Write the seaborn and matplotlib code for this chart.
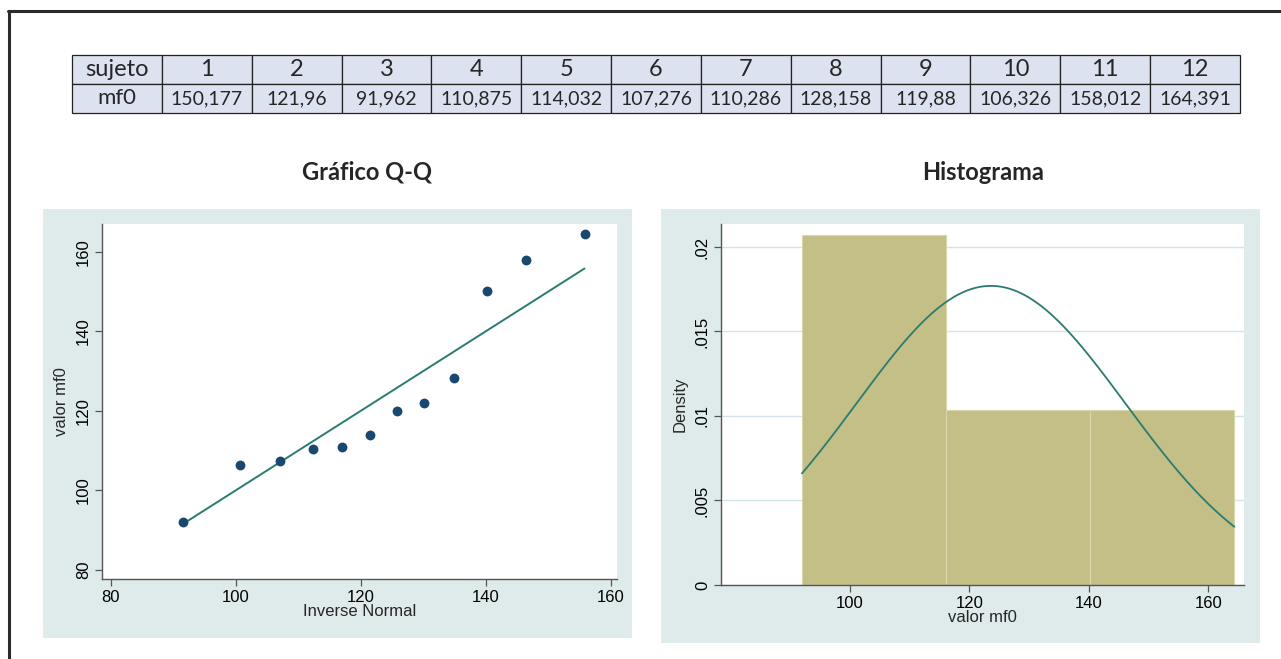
import matplotlib
matplotlib.use("Agg")
import matplotlib.pyplot as plt
import seaborn as sns
import numpy as np
import pandas as pd
from matplotlib.patches import Rectangle
from matplotlib.lines import Line2D

# Datos
sujeto = [1, 2, 3, 4, 5, 6, 7, 8, 9, 10, 11, 12]
mf0 = [150.177, 121.96, 91.962, 110.875, 114.032, 107.276,
       110.286, 128.158, 119.88, 106.326, 158.012, 164.391]
mf0_text = ["150,177", "121,96", "91,962", "110,875", "114,032", "107,276",
            "110,286", "128,158", "119,88", "106,326", "158,012", "164,391"]
# cuantiles normales (eje x del Q-Q)
inverse_normal = [91.5, 100.6, 107.0, 112.3, 117.0, 121.4,
                  125.8, 130.2, 134.9, 140.2, 146.5, 155.8]

qq_xticks = [80, 100, 120, 140, 160]
qq_yticks = [80, 100, 120, 140, 160]
hist_xticks = [100, 120, 140, 160]
hist_yticks = [0, 0.005, 0.01, 0.015, 0.02]
hist_ylabels = ["0", ".005", ".01", ".015", ".02"]

sns.set_style("white")
plt.rcParams['font.family'] = ['Liberation Sans', 'DejaVu Sans']

BG = "#dfeaeb"
NAVY = "#1a476f"
TEAL = "#2a7b70"
KHAKI = "#c4bf86"
W, H = 1281, 659


def fx(px):
    return px / W


def fy(py):
    return 1 - py / H


fig = plt.figure(figsize=(12.81, 6.59), dpi=100)
fig.patch.set_facecolor("white")

# marco exterior
fig.add_artist(Line2D([fx(8), 1.0], [fy(11), fy(11)], color="#2b2b2b", lw=2.2))
fig.add_artist(Line2D([fx(9), fx(9)], [fy(11), 0.0], color="#2b2b2b", lw=2.2))

# tabla
tab_ax = fig.add_axes([fx(72), fy(113), fx(1240) - fx(72), fy(55) - fy(113)])
tab_ax.axis("off")
rows = [["sujeto"] + [str(s) for s in sujeto], ["mf0"] + mf0_text]
tbl = tab_ax.table(cellText=rows, cellLoc="center", bbox=[0, 0, 1, 1],
                   cellColours=[["#dde2f0"] * 13] * 2)
tbl.auto_set_font_size(False)
for (r, c), cell in tbl.get_celld().items():
    cell.set_edgecolor("#222222")
    cell.set_linewidth(0.9)
    txt = cell.get_text()
    txt.set_fontfamily(['Lato', 'DejaVu Sans'])
    txt.set_fontsize(17 if r == 0 else 14)
    if r == 1 and c == 0:
        txt.set_fontsize(16)

# paneles de fondo
fig.add_artist(Rectangle((fx(43), fy(638)), fx(632) - fx(43), fy(209) - fy(638),
                         transform=fig.transFigure, facecolor=BG, edgecolor="none", zorder=0))
fig.add_artist(Rectangle((fx(661), fy(643)), fx(1260) - fx(661), fy(209) - fy(643),
                         transform=fig.transFigure, facecolor=BG, edgecolor="none", zorder=0))

# titulos
fig.text(fx(367), fy(172), "Gráfico Q-Q", ha="center", va="center",
         fontsize=17, fontweight="bold", family=['Lato', 'DejaVu Sans'])
fig.text(fx(983), fy(173), "Histograma", ha="center", va="center",
         fontsize=17, fontweight="bold", family=['Lato', 'DejaVu Sans'])


def style_axes(ax):
    ax.set_facecolor("white")
    for s in ["top", "right"]:
        ax.spines[s].set_visible(False)
    for s in ["left", "bottom"]:
        ax.spines[s].set_color("#555555")
        ax.spines[s].set_linewidth(1.0)
    ax.tick_params(axis="both", direction="out", length=5, width=0.9,
                   color="#555555", labelsize=12, labelcolor="black",
                   left=True, bottom=True, pad=3)
    ax.tick_params(axis="y", labelrotation=90)
    for lab in ax.get_yticklabels():
        lab.set_va("center")


# Q-Q
qq = fig.add_axes([fx(102), fy(579), fx(617) - fx(102), fy(224) - fy(579)])
qq_df = pd.DataFrame({"inv": inverse_normal, "val": sorted(mf0)})
ref = pd.DataFrame({"x": [inverse_normal[0], inverse_normal[-1]],
                    "y": [inverse_normal[0], inverse_normal[-1]]})
sns.lineplot(data=ref, x="x", y="y", ax=qq, color=TEAL, lw=1.4)
sns.scatterplot(data=qq_df, x="inv", y="val", ax=qq, color=NAVY, s=50,
                edgecolor=NAVY, linewidth=0, zorder=3)
qq.set_xlim(78.6, 161)
qq.set_ylim(77.7, 167)
qq.set_xticks(qq_xticks)
qq.set_yticks(qq_yticks)
style_axes(qq)
qq.set_xlabel("Inverse Normal", fontsize=12, labelpad=-1)
qq.set_ylabel("valor mf0", fontsize=12, labelpad=5)

# Histograma
hs = fig.add_axes([fx(721), fy(585), fx(1244) - fx(721), fy(224) - fy(585)])
hs.set_axisbelow(True)
hs.yaxis.grid(True, color="#d3e4e8", lw=1.0)
sns.histplot(x=mf0, bins=3, stat="density", ax=hs, color=KHAKI, alpha=1,
             edgecolor="#d9d6ab", linewidth=0.8)
m = np.mean(mf0)
sd = np.std(mf0, ddof=1)
xs = np.linspace(min(mf0), max(mf0), 300)
curve = pd.DataFrame({"x": xs, "y": np.exp(-0.5 * ((xs - m) / sd) ** 2) / (sd * np.sqrt(2 * np.pi))})
sns.lineplot(data=curve, x="x", y="y", ax=hs, color=TEAL, lw=1.3)
hs.set_xlim(78.4, 166)
hs.set_ylim(0, 0.02136)
hs.set_xticks(hist_xticks)
hs.set_yticks(hist_yticks, labels=hist_ylabels)
style_axes(hs)
hs.set_xlabel("valor mf0", fontsize=12, labelpad=-1)
hs.set_ylabel("Density", fontsize=12, labelpad=5)

fig.savefig("out.png", dpi=100)
